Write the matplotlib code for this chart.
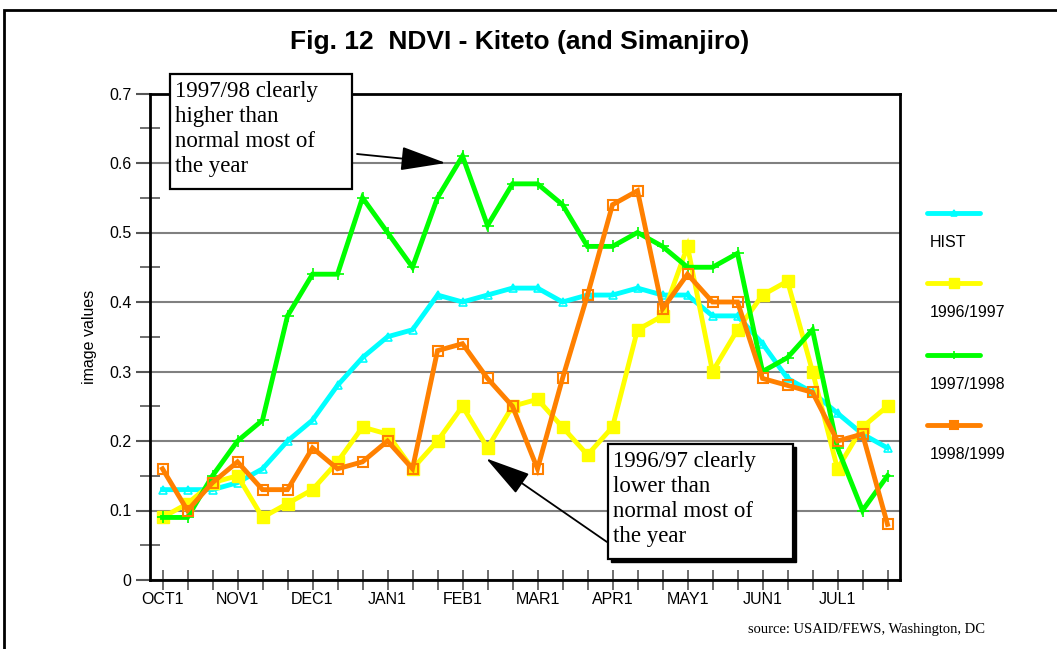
import matplotlib
matplotlib.use("Agg")
import matplotlib.pyplot as plt
from matplotlib.lines import Line2D
from matplotlib.patches import Rectangle

plt.rcParams['font.family'] = ['Liberation Sans', 'DejaVu Sans']

# dekads from OCT1 to JUL3
month_labels = ['OCT1', 'NOV1', 'DEC1', 'JAN1', 'FEB1', 'MAR1', 'APR1', 'MAY1', 'JUN1', 'JUL1']

hist = [0.13, 0.13, 0.13, 0.14, 0.16, 0.20, 0.23, 0.28, 0.32, 0.35,
        0.36, 0.41, 0.40, 0.41, 0.42, 0.42, 0.40, 0.41, 0.41, 0.42,
        0.41, 0.41, 0.38, 0.38, 0.34, 0.29, 0.27, 0.24, 0.21, 0.19]
y9697 = [0.09, 0.11, 0.14, 0.15, 0.09, 0.11, 0.13, 0.17, 0.22, 0.21,
         0.16, 0.20, 0.25, 0.19, 0.25, 0.26, 0.22, 0.18, 0.22, 0.36,
         0.38, 0.48, 0.30, 0.36, 0.41, 0.43, 0.30, 0.16, 0.22, 0.25]
y9798 = [0.09, 0.09, 0.15, 0.20, 0.23, 0.38, 0.44, 0.44, 0.55, 0.50,
         0.45, 0.55, 0.61, 0.51, 0.57, 0.57, 0.54, 0.48, 0.48, 0.50,
         0.48, 0.45, 0.45, 0.47, 0.30, 0.32, 0.36, 0.19, 0.10, 0.15]
y9899 = [0.16, 0.10, 0.14, 0.17, 0.13, 0.13, 0.19, 0.16, 0.17, 0.20,
         0.16, 0.33, 0.34, 0.29, 0.25, 0.16, 0.29, 0.41, 0.54, 0.56,
         0.39, 0.44, 0.40, 0.40, 0.29, 0.28, 0.27, 0.20, 0.21, 0.08]

note_high = ['1997/98 clearly', 'higher than', 'normal most of', 'the year']
note_low = ['1996/97 clearly', 'lower than', 'normal most of', 'the year']

series = [
    ('HIST', hist, '#00FFFF', dict(marker='^', ms=6, mfc='none', mew=1.2)),
    ('1996/1997', y9697, '#FFFF00', dict(marker='s', ms=9)),
    ('1997/1998', y9798, '#00FF00', dict(marker='+', ms=8, mew=1.2)),
    ('1998/1999', y9899, '#FF8000', dict(marker='s', ms=7.5, mfc='none', mew=1.5)),
]

W, H = 1057, 649


def px(x, y):
    # figure pixel (from top-left) -> figure fraction
    return x / W, 1 - y / H


fig = plt.figure(figsize=(W / 100, H / 100), dpi=100)
ax = fig.add_axes([150 / W, 69 / H, 750 / W, 486.5 / H])

x = list(range(len(hist)))
for name, vals, col, mk in series:
    ax.plot(x, vals, color=col, lw=3.5, solid_joinstyle='miter', zorder=3, **mk)

ax.set_xlim(-0.5, len(hist) - 0.5)
ax.set_ylim(0, 0.7)

ax.set_xticks(x)
ax.set_xticklabels([month_labels[i // 3] if i % 3 == 0 else '' for i in x], fontsize=11.5)
ax.tick_params(axis='x', direction='inout', length=14, width=1.2, color='#555555', pad=2)

ax.set_yticks([i / 10 for i in range(8)])
ax.set_yticklabels(['0'] + ['%.1f' % (i / 10) for i in range(1, 8)], fontsize=11.5)
ax.set_yticks([i / 10 + 0.05 for i in range(7)], minor=True)
ax.tick_params(axis='y', which='major', direction='out', length=10, width=1.5, color='#555555')
ax.tick_params(axis='y', which='minor', direction='inout', length=14, width=1.2, color='#555555')

ax.grid(axis='y', which='major', color='#808080', lw=1.5, zorder=1)
for s in ax.spines.values():
    s.set_linewidth(2)
    s.set_color('black')

ax.set_ylabel('image values', fontsize=11.5, labelpad=8.5)

fig.text(0.492, 1 - 42 / H, 'Fig. 12  NDVI - Kiteto (and Simanjiro)', ha='center', va='center',
         fontsize=19, fontweight='bold')

# legend drawn to the right, text under each line
leg_line_y = [0.754, 0.610, 0.4625, 0.3186]
leg_text_y = [0.693, 0.549, 0.401, 0.257]
for (name, vals, col, mk), ly, ty in zip(series, leg_line_y, leg_text_y):
    ax.add_line(Line2D([1.036, 1.0715, 1.107], [ly, ly, ly], transform=ax.transAxes, color=col, lw=3.5,
                       solid_capstyle='round', clip_on=False, markevery=[1],
                       marker=mk['marker'], ms=mk['ms'] * 0.8, mew=mk.get('mew', 1),
                       mfc=col, mec=col))
    ax.text(1.04, ty, name, transform=ax.transAxes, fontsize=11.5, va='center', ha='left')

serif = ['Liberation Serif', 'DejaVu Serif']
arrow = dict(arrowstyle='-|>,head_length=0.95,head_width=0.25', mutation_scale=30, color='black',
             lw=1.3, shrinkA=0, shrinkB=0)


def note(lines, left, top, right, bottom, text_x, base_y, shadow=False):
    if shadow:
        fig.patches.append(Rectangle(px(left + 3, bottom + 3), (right - left) / W, (bottom - top) / H,
                                     transform=fig.transFigure, fc='black', ec='black', lw=1, zorder=6))
    fig.patches.append(Rectangle(px(left, bottom), (right - left) / W, (bottom - top) / H,
                                 transform=fig.transFigure, fc='white', ec='black', lw=1.6, zorder=7))
    for i, line in enumerate(lines):
        fig.text(*px(text_x, base_y + 25 * i), line, fontsize=16.5, family=serif,
                 ha='left', va='baseline', zorder=8)


note(note_high, 170, 74, 352, 189, 175, 97)
ax.annotate('', xy=(11.33, 0.60), xytext=px(357, 154), textcoords='figure fraction',
            arrowprops=arrow, annotation_clip=False, zorder=6)

note(note_low, 608, 444, 793, 559, 613, 467, shadow=True)
ax.annotate('', xy=(12.94, 0.175), xytext=px(607, 542), textcoords='figure fraction',
            arrowprops=arrow, annotation_clip=False, zorder=6)

fig.text(748 / W, 1 - 630 / H, 'source: USAID/FEWS, Washington, DC', fontsize=10.5,
         family=serif, va='center', ha='left')

fig.patches.append(Rectangle((4 / W, -0.1), 1.2, 0.1 + 639 / H, transform=fig.transFigure,
                             fill=False, ec='black', lw=2))

fig.savefig('out.png', dpi=100)
